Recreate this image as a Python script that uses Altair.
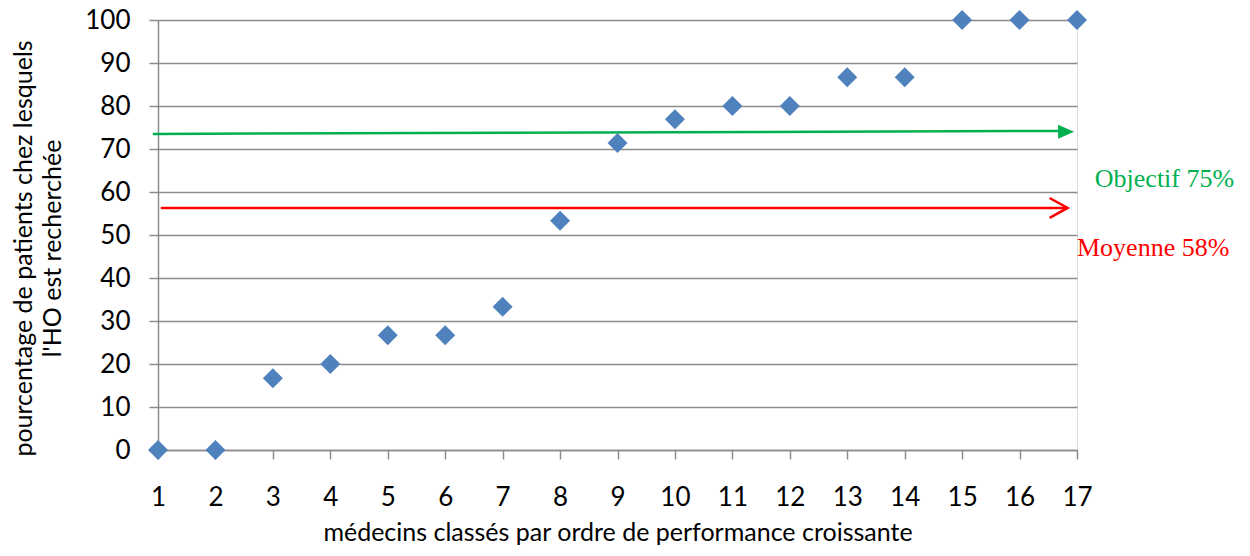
import altair as alt
import pandas as pd

# ---- data ----
doctors = list(range(1, 18))
pct = [0, 0, 16.7, 20, 26.7, 26.7, 33.3, 53.3, 71.4, 76.9, 80, 80, 86.7, 86.7, 100, 100, 100]

x_ticks = list(range(1, 18))
y_ticks = list(range(0, 101, 10))

# reference arrows (objective and mean), in data units
arrow_names = ["Objectif", "Moyenne"]
arrow_x_start = [0.91, 1.05]
arrow_x_end = [16.85, 16.82]
arrow_y_start = [73.5, 56.3]
arrow_y_end = [74.2, 56.3]
arrow_colors = ["#00B050", "#FF0000"]

head_x = [16.81, 16.68]
head_y = [74.0, 56.3]

label_texts = ["Objectif 75%", "Moyenne 58%"]
label_x = [17.31, 17.0]
label_y = [61.2, 45.2]

FONT = "Lato"

pts = pd.DataFrame({"x": doctors, "y": pct})
arrows = pd.DataFrame({"name": arrow_names, "x": arrow_x_start, "x2": arrow_x_end,
                       "y": arrow_y_start, "y2": arrow_y_end, "c": arrow_colors})
labels = pd.DataFrame({"t": label_texts, "x": label_x, "y": label_y, "c": arrow_colors})

xscale = alt.Scale(domain=[1, 17], nice=False, zero=False)
yscale = alt.Scale(domain=[0, 100], nice=False, zero=False)

xaxis = alt.Axis(values=x_ticks, format="d", grid=False,
                 title="médecins classés par ordre de performance croissante",
                 labelFontSize=26, labelFont=FONT, labelColor="black", labelPadding=25,
                 tickSize=9, tickColor="#8c8c8c", tickWidth=1.5, domainColor="#8c8c8c", domainWidth=1.5,
                 titleFont=FONT, titleFontSize=25, titleFontWeight="normal", titleColor="black",
                 titleY=90, titleBaseline="alphabetic", labelFlush=False)
yaxis = alt.Axis(values=y_ticks, format="d", grid=True, gridColor="#8c8c8c", gridWidth=1.5,
                 title=["pourcentage de patients chez lesquels", "l'HO est recherchée"],
                 labelFontSize=26, labelFont=FONT, labelColor="black", labelPadding=19,
                 tickSize=9, tickColor="#8c8c8c", tickWidth=1.5, domainColor="#8c8c8c", domainWidth=1.5,
                 titleFont=FONT, titleFontSize=25, titleFontWeight="normal", titleColor="black",
                 titleAngle=-90, titleX=-127, titleY=228, titleAlign="center",
                 titleBaseline="alphabetic", titleLineHeight=29, labelFlush=False)

base_pts = alt.Chart(pts).mark_point(
    shape="diamond", filled=True, size=400, color="#4F81BD", opacity=1, strokeWidth=0
).encode(x=alt.X("x:Q", scale=xscale, axis=xaxis), y=alt.Y("y:Q", scale=yscale, axis=yaxis))

rules = alt.Chart(arrows).mark_rule(strokeWidth=2.5).encode(
    x="x:Q", x2="x2:Q", y="y:Q", y2="y2:Q", color=alt.Color("c:N", scale=None)
)

green_head = alt.Chart(pd.DataFrame({"x": [head_x[0]], "y": [head_y[0]]})).mark_point(
    shape="M-1,-0.875L1,0L-1,0.875Z", filled=True, size=256, color=arrow_colors[0], opacity=1, strokeWidth=0
).encode(x="x:Q", y="y:Q")

red_head = alt.Chart(pd.DataFrame({"x": [head_x[1]], "y": [head_y[1]]})).mark_point(
    shape="M-1,-1.1L1,0L-1,1.1", filled=False, size=324, color=arrow_colors[1], opacity=1, strokeWidth=2.5
).encode(x="x:Q", y="y:Q")

texts = alt.Chart(labels).mark_text(
    font="Liberation Serif", fontSize=26, align="left", baseline="alphabetic"
).encode(x="x:Q", y="y:Q", text="t:N", color=alt.Color("c:N", scale=None))

chart = alt.layer(rules, green_head, red_head, base_pts, texts).properties(
    width=919, height=430,
    autosize=alt.AutoSizeParams(type="none"),
    padding={"left": 150, "top": 12, "right": 165, "bottom": 98},
).configure_view(stroke=None).configure(background="white")

chart.save("out.html", embed_options={"renderer": "svg", "actions": False})
